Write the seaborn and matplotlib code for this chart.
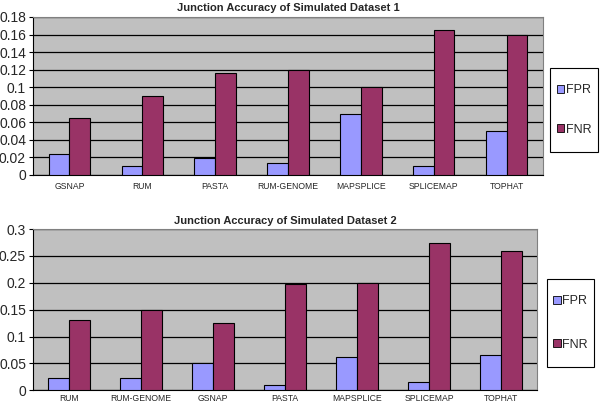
import numpy as np
import pandas as pd
import matplotlib
matplotlib.use("Agg")
import matplotlib.pyplot as plt
import seaborn as sns

# data
tools1 = ["GSNAP", "RUM", "PASTA", "RUM-GENOME", "MAPSPLICE", "SPLICEMAP", "TOPHAT"]
fpr1 = [0.024, 0.010, 0.019, 0.014, 0.070, 0.010, 0.050]
fnr1 = [0.065, 0.090, 0.116, 0.120, 0.100, 0.165, 0.160]

tools2 = ["RUM", "RUM-GENOME", "GSNAP", "PASTA", "MAPSPLICE", "SPLICEMAP", "TOPHAT"]
fpr2 = [0.022, 0.022, 0.050, 0.009, 0.061, 0.015, 0.065]
fnr2 = [0.130, 0.150, 0.125, 0.198, 0.200, 0.275, 0.260]

titles = ["Junction Accuracy of Simulated Dataset 1", "Junction Accuracy of Simulated Dataset 2"]
yticks1 = [0, 0.02, 0.04, 0.06, 0.08, 0.1, 0.12, 0.14, 0.16, 0.18]
ylabels1 = ["0", "0.02", "0.04", "0.06", "0.08", "0.1", "0.12", "0.14", "0.16", "0.18"]
yticks2 = [0, 0.05, 0.1, 0.15, 0.2, 0.25, 0.3]
ylabels2 = ["0", "0.05", "0.1", "0.15", "0.2", "0.25", "0.3"]

palette = {"FPR": "#9999FF", "FNR": "#993366"}

sns.set_style("white")
plt.rcParams["font.family"] = ["Liberation Sans", "DejaVu Sans"]

W, H = 600, 404
fig = plt.figure(figsize=(6, 4.04), dpi=100)
ax1 = fig.add_axes([0.055, 0.567, 0.85, 0.391])
ax2 = fig.add_axes([0.055, 0.034, 0.84, 0.399])


def make_df(tools, fpr, fnr):
    return pd.DataFrame({
        "tool": tools * 2,
        "rate": ["FPR"] * len(tools) + ["FNR"] * len(tools),
        "value": fpr + fnr,
    })


def draw(ax, df, title, yt, yl, box, spacing, xpad):
    ax.set_facecolor("#C0C0C0")
    sns.barplot(data=df, x="tool", y="value", hue="rate", palette=palette,
                width=0.57, edgecolor="black", linewidth=0.8, ax=ax,
                saturation=1, zorder=3)
    ax.set_ylim(0, yt[-1])
    ax.set_xlim(-0.5, 6.5)
    ax.set_yticks(yt)
    ax.set_yticklabels(yl, fontsize=10)
    ax.yaxis.grid(True, color="black", linewidth=0.9, zorder=1)
    ax.set_axisbelow(True)
    ax.set_xlabel("")
    ax.set_ylabel("")
    ax.tick_params(axis="x", which="major", length=0, labelsize=6.2, pad=xpad)
    ax.set_xticks(np.arange(-0.5, 7, 1), minor=True)
    ax.tick_params(axis="x", which="minor", length=4, width=0.8, direction="out", color="black")
    ax.tick_params(axis="y", length=3, width=0.8, direction="out", color="black", pad=2, left=True)
    for s in ["top", "right"]:
        ax.spines[s].set_color("#808080")
        ax.spines[s].set_linewidth(0.8)
    ax.spines["left"].set_color("black")
    ax.spines["bottom"].set_color("black")
    ax.set_title(title, fontsize=8, fontweight="bold", pad=4)
    ax.legend_.remove()

    # legend frame drawn by hand (pixel box from the reference)
    x0, y0, x1, y1 = box
    fig.patches.append(plt.Rectangle((x0 / W, 1 - y1 / H), (x1 - x0) / W, (y1 - y0) / H,
                                     transform=fig.transFigure, facecolor="white",
                                     edgecolor="black", linewidth=0.8))
    h = [plt.Rectangle((0, 0), 1, 1, facecolor=palette[k], edgecolor="black", linewidth=0.6)
         for k in ["FPR", "FNR"]]
    fig.legend(h, ["FPR", "FNR"], loc="center",
               bbox_to_anchor=((x0 + x1) / 2 / W, 1 - (y0 + y1) / 2 / H),
               frameon=False, fontsize=9,
               handlelength=0.6, handleheight=0.6, handletextpad=0.15,
               labelspacing=spacing, borderpad=0, borderaxespad=0)


draw(ax1, make_df(tools1, fpr1, fnr1), titles[0], yticks1, ylabels1, (550, 68, 598, 152), 2.2, 5)
draw(ax2, make_df(tools2, fpr2, fnr2), titles[1], yticks2, ylabels2, (547, 279, 594, 367), 2.5, 3)

fig.savefig("out.png", dpi=100)
